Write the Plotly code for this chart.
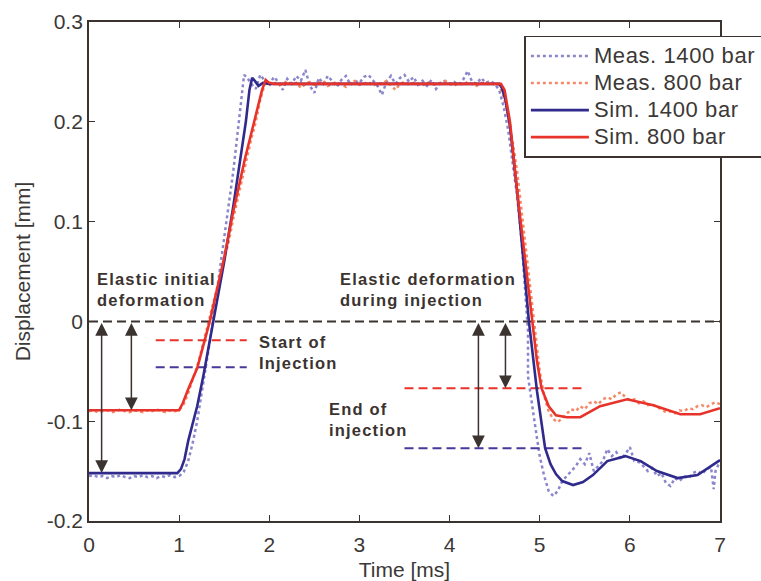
import plotly.graph_objects as go

# ---------------- data ----------------
sim1400_t = [0, 0.98, 1.02, 1.06, 1.10, 1.20, 1.27, 1.38, 1.50, 1.60, 1.68, 1.74, 1.78, 1.81, 1.84, 1.88, 1.93, 2.0,
             4.55, 4.58, 4.62, 4.67, 4.75, 4.82, 4.88, 4.97, 5.06, 5.12, 5.18, 5.25, 5.37, 5.48, 5.59, 5.75, 5.95,
             6.12, 6.30, 6.53, 6.75, 7.0]
sim1400_y = [-0.152, -0.152, -0.148, -0.138, -0.120, -0.085, -0.054, 0.0, 0.060, 0.115, 0.163, 0.200, 0.232, 0.244,
             0.241, 0.236, 0.239, 0.238, 0.238, 0.234, 0.222, 0.196, 0.130, 0.063, 0.0, -0.070, -0.127, -0.143,
             -0.153, -0.160, -0.164, -0.161, -0.154, -0.140, -0.135, -0.140, -0.150, -0.157, -0.154, -0.139]

sim800_t = [0, 1.0, 1.04, 1.10, 1.20, 1.34, 1.50, 1.60, 1.73, 1.85, 1.92, 1.96, 2.0, 2.05, 4.57, 4.61, 4.67, 4.75,
            4.84, 4.92, 4.97, 5.02, 5.10, 5.18, 5.30, 5.45, 5.67, 5.97, 6.26, 6.56, 6.78, 7.0]
sim800_y = [-0.089, -0.089, -0.082, -0.068, -0.047, 0.0, 0.064, 0.110, 0.163, 0.205, 0.232, 0.242, 0.239, 0.238,
            0.238, 0.232, 0.200, 0.130, 0.063, 0.0, -0.040, -0.067, -0.085, -0.094, -0.096, -0.096, -0.085, -0.078,
            -0.084, -0.093, -0.093, -0.087]

meas1400_t = [0.00, 0.05, 0.10, 0.15, 0.20, 0.25, 0.30, 0.35, 0.40, 0.45, 0.50, 0.55, 0.60, 0.65, 0.70, 0.75, 0.80,
              0.85, 0.90, 0.95, 1.00, 1.05, 1.10, 1.15, 1.20, 1.25, 1.30, 1.35, 1.40, 1.45, 1.50, 1.55, 1.60, 1.65,
              1.70, 1.72, 1.75, 1.80, 1.85, 1.90, 1.95, 2.00, 2.05, 2.10, 2.15, 2.20, 2.25, 2.30, 2.35, 2.40, 2.45,
              2.50, 2.55, 2.60, 2.65, 2.70, 2.75, 2.80, 2.85, 2.90, 2.95, 3.00, 3.05, 3.10, 3.15, 3.20, 3.25, 3.30,
              3.35, 3.40, 3.45, 3.50, 3.55, 3.60, 3.65, 3.70, 3.75, 3.80, 3.85, 3.90, 3.95, 4.00, 4.05, 4.10, 4.15,
              4.20, 4.25, 4.30, 4.35, 4.40, 4.45, 4.50, 4.55, 4.60, 4.65, 4.70, 4.75, 4.80, 4.85, 4.87, 4.87, 4.90,
              4.95, 5.00, 5.05, 5.10, 5.15, 5.20, 5.25, 5.30, 5.35, 5.40, 5.45, 5.50, 5.55, 5.60, 5.65, 5.70, 5.75,
              5.80, 5.85, 5.90, 5.95, 6.00, 6.05, 6.10, 6.15, 6.20, 6.25, 6.30, 6.35, 6.40, 6.45, 6.50, 6.55, 6.60,
              6.65, 6.70, 6.75, 6.80, 6.85, 6.90, 6.93, 6.95, 7.00]
meas1400_y = [-0.155, -0.154, -0.156, -0.155, -0.157, -0.155, -0.156, -0.154, -0.156, -0.157, -0.155, -0.156,
              -0.154, -0.156, -0.155, -0.157, -0.155, -0.156, -0.154, -0.156, -0.155, -0.151, -0.140, -0.122,
              -0.100, -0.073, -0.045, -0.015, 0.018, 0.050, 0.085, 0.117, 0.150, 0.190, 0.232, 0.247, 0.245, 0.238,
              0.233, 0.247, 0.241, 0.236, 0.245, 0.240, 0.232, 0.243, 0.238, 0.246, 0.241, 0.252, 0.236, 0.229,
              0.244, 0.238, 0.246, 0.240, 0.235, 0.242, 0.246, 0.237, 0.241, 0.239, 0.245, 0.247, 0.242, 0.236,
              0.227, 0.240, 0.246, 0.238, 0.244, 0.247, 0.240, 0.245, 0.237, 0.241, 0.236, 0.242, 0.233, 0.239,
              0.241, 0.238, 0.240, 0.237, 0.242, 0.251, 0.240, 0.238, 0.244, 0.239, 0.241, 0.238, 0.232, 0.215,
              0.192, 0.160, 0.125, 0.080, 0.020, -0.010, -0.055, -0.075, -0.105, -0.135, -0.155, -0.170, -0.175,
              -0.170, -0.160, -0.155, -0.150, -0.145, -0.138, -0.143, -0.132, -0.150, -0.145, -0.140, -0.128,
              -0.135, -0.131, -0.138, -0.133, -0.126, -0.140, -0.141, -0.145, -0.150, -0.147, -0.155, -0.152,
              -0.162, -0.165, -0.157, -0.160, -0.155, -0.157, -0.152, -0.150, -0.153, -0.148, -0.146, -0.168,
              -0.150, -0.140]

meas800_t = [0.00, 0.05, 0.10, 0.15, 0.20, 0.25, 0.30, 0.35, 0.40, 0.45, 0.50, 0.55, 0.60, 0.65, 0.70, 0.75, 0.80,
             0.85, 0.90, 0.95, 1.00, 1.05, 1.10, 1.15, 1.20, 1.25, 1.30, 1.35, 1.40, 1.45, 1.50, 1.55, 1.60, 1.65,
             1.70, 1.75, 1.80, 1.85, 1.90, 1.95, 2.00, 2.05, 2.10, 2.15, 2.20, 2.25, 2.30, 2.35, 2.40, 2.45, 2.50,
             2.55, 2.60, 2.65, 2.70, 2.75, 2.80, 2.85, 2.90, 2.95, 3.00, 3.05, 3.10, 3.15, 3.20, 3.25, 3.30, 3.35,
             3.40, 3.45, 3.50, 3.55, 3.60, 3.65, 3.70, 3.75, 3.80, 3.85, 3.90, 3.95, 4.00, 4.05, 4.10, 4.15, 4.20,
             4.25, 4.30, 4.35, 4.40, 4.45, 4.50, 4.55, 4.60, 4.65, 4.70, 4.75, 4.80, 4.85, 4.90, 4.95, 5.00, 5.05,
             5.10, 5.15, 5.20, 5.25, 5.30, 5.35, 5.40, 5.45, 5.50, 5.55, 5.60, 5.65, 5.70, 5.75, 5.80, 5.85, 5.90,
             5.95, 6.00, 6.05, 6.10, 6.15, 6.20, 6.25, 6.30, 6.35, 6.40, 6.45, 6.50, 6.55, 6.60, 6.65, 6.70, 6.75,
             6.80, 6.85, 6.90, 6.95, 7.00]
meas800_y = [-0.090, -0.089, -0.091, -0.090, -0.089, -0.091, -0.090, -0.088, -0.090, -0.091, -0.089, -0.090,
             -0.091, -0.089, -0.090, -0.088, -0.090, -0.091, -0.089, -0.090, -0.089, -0.083, -0.072, -0.058,
             -0.045, -0.028, -0.010, 0.008, 0.025, 0.042, 0.060, 0.080, 0.103, 0.124, 0.145, 0.163, 0.183, 0.200,
             0.222, 0.238, 0.237, 0.240, 0.236, 0.238, 0.241, 0.237, 0.239, 0.234, 0.238, 0.240, 0.237, 0.239,
             0.241, 0.236, 0.238, 0.240, 0.238, 0.235, 0.239, 0.241, 0.237, 0.238, 0.240, 0.236, 0.239, 0.238,
             0.241, 0.237, 0.232, 0.238, 0.240, 0.237, 0.239, 0.238, 0.236, 0.240, 0.238, 0.237, 0.239, 0.241,
             0.238, 0.236, 0.239, 0.237, 0.240, 0.238, 0.236, 0.239, 0.238, 0.240, 0.237, 0.237, 0.225, 0.205,
             0.180, 0.150, 0.110, 0.070, 0.025, -0.015, -0.050, -0.075, -0.090, -0.098, -0.101, -0.097, -0.092,
             -0.088, -0.090, -0.085, -0.088, -0.082, -0.080, -0.083, -0.078, -0.076, -0.078, -0.073, -0.071,
             -0.076, -0.079, -0.078, -0.082, -0.080, -0.084, -0.083, -0.086, -0.088, -0.091, -0.090, -0.092,
             -0.089, -0.090, -0.087, -0.088, -0.085, -0.084, -0.086, -0.083, -0.081, -0.083]

x_ticks = [0, 1, 2, 3, 4, 5, 6, 7]
y_ticks = [-0.2, -0.1, 0, 0.1, 0.2, 0.3]
y_tick_text = ["-0.2", "-0.1", "0", "0.1", "0.2", "0.3"]

series_names = ["Meas. 1400 bar", "Meas. 800 bar", "Sim. 1400 bar", "Sim. 800 bar"]

# reference lines / markers
zero_x = [0, 7]
zero_y = [0, 0]
start_x = [0.74, 1.75]
start_red_y = -0.019
start_blue_y = -0.046
end_x = [3.5, 5.52]
end_red_y = -0.067
end_blue_y = -0.127
arrows = [  # (x, top, bottom)
    (0.14, 0.0, -0.152),
    (0.47, 0.0, -0.089),
    (4.32, 0.0, -0.127),
    (4.62, 0.0, -0.067),
]

DARK = "#3b3330"
C_SIM14 = "#2f2a8c"
C_SIM8 = "#e8332a"
C_MEAS14 = "#8a86cc"
C_MEAS8 = "#f48a68"


def legend_name(s):
    return '<span style="font-size:22px;letter-spacing:0.6px">' + s + '</span>'


fig = go.Figure()

fig.add_trace(go.Scatter(x=meas1400_t, y=meas1400_y, mode="lines", name=legend_name(series_names[0]),
                         hoverinfo="x+y", line=dict(color=C_MEAS14, width=2.5, dash="dot")))
fig.add_trace(go.Scatter(x=meas800_t, y=meas800_y, mode="lines", name=legend_name(series_names[1]),
                         hoverinfo="x+y", line=dict(color=C_MEAS8, width=2.5, dash="dot")))

# reference dashed lines
fig.add_trace(go.Scatter(x=zero_x, y=zero_y, mode="lines", showlegend=False, hoverinfo="skip",
                         line=dict(color=DARK, width=2, dash="9px,5px")))
fig.add_trace(go.Scatter(x=start_x, y=[start_red_y] * 2, mode="lines", showlegend=False, hoverinfo="skip",
                         line=dict(color=C_SIM8, width=2, dash="9px,5px")))
fig.add_trace(go.Scatter(x=start_x, y=[start_blue_y] * 2, mode="lines", showlegend=False, hoverinfo="skip",
                         line=dict(color="#45399a", width=2, dash="9px,5px")))
fig.add_trace(go.Scatter(x=end_x, y=[end_red_y] * 2, mode="lines", showlegend=False, hoverinfo="skip",
                         line=dict(color=C_SIM8, width=2, dash="9px,5px")))
fig.add_trace(go.Scatter(x=end_x, y=[end_blue_y] * 2, mode="lines", showlegend=False, hoverinfo="skip",
                         line=dict(color="#45399a", width=2, dash="9px,5px")))

fig.add_trace(go.Scatter(x=sim1400_t, y=sim1400_y, mode="lines", name=legend_name(series_names[2]),
                         hoverinfo="x+y", line=dict(color=C_SIM14, width=2.6)))
fig.add_trace(go.Scatter(x=sim800_t, y=sim800_y, mode="lines", name=legend_name(series_names[3]),
                         hoverinfo="x+y", line=dict(color=C_SIM8, width=2.6)))

annotations = []
for ax_x, top, bot in arrows:
    annotations.append(dict(x=ax_x, y=bot, ax=ax_x, ay=top, xref="x", yref="y", axref="x", ayref="y",
                            text="", showarrow=True, arrowhead=2, startarrowhead=2, arrowside="end+start",
                            arrowsize=1.7, startarrowsize=1.7, arrowwidth=1.5, arrowcolor=DARK,
                            standoff=0, startstandoff=0))

LS = '<span style="letter-spacing:1.2px">{}</span>'
text_font = dict(family="Liberation Sans, Arial, sans-serif", size=16.5, color=DARK)
labels = [
    (0.07, 0.032, "Elastic initial<br>deformation"),
    (1.86, -0.031, "Start of<br>Injection"),
    (2.76, 0.032, "Elastic deformation<br>during injection"),
    (2.64, -0.098, "End of<br>injection"),
]
for lx, ly, txt in labels:
    lines = txt.split("<br>")
    t = "<br>".join("<b>" + LS.format(l) + "</b>" for l in lines)
    annotations.append(dict(x=lx, y=ly, xref="x", yref="y", text=t, showarrow=False,
                            xanchor="left", yanchor="middle", align="left", font=text_font))

fig.update_layout(
    width=761, height=581,
    margin=dict(l=89, r=41, t=22, b=60, autoexpand=False),
    paper_bgcolor="white", plot_bgcolor="white",
    font=dict(family="Liberation Sans, Arial, sans-serif", size=21, color="#3b3836"),
    showlegend=True,
    legend=dict(x=0.69, y=0.972, xanchor="left", yanchor="top", bgcolor="white",
                bordercolor=DARK, borderwidth=1.5, itemwidth=58, entrywidth=250,
                font=dict(size=18.5, color="#3b3836"), tracegroupgap=0),
    annotations=annotations,
)
fig.update_xaxes(range=[0, 7], tickvals=x_ticks, ticktext=[str(v) for v in x_ticks],
                 showline=True, linecolor=DARK, linewidth=1.8, mirror="ticks",
                 ticks="inside", ticklen=6, tickcolor=DARK, tickwidth=1,
                 showgrid=False, zeroline=False, ticklabelstandoff=4,
                 title=dict(text="Time [ms]", standoff=11, font=dict(size=21)))
fig.update_yaxes(range=[-0.2, 0.3], tickvals=y_ticks, ticktext=y_tick_text,
                 showline=True, linecolor=DARK, linewidth=1.8, mirror="ticks",
                 ticks="inside", ticklen=6, tickcolor=DARK, tickwidth=1,
                 showgrid=False, zeroline=False, ticklabelstandoff=0,
                 title=dict(text="Displacement [mm]", standoff=10, font=dict(size=21)))

fig.write_html("out.html")
